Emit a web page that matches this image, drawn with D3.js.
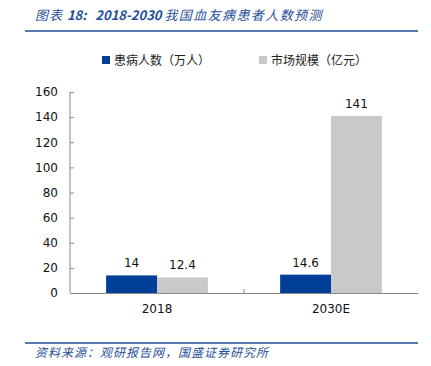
<!DOCTYPE html>
<html>
<head>
<meta charset="utf-8">
<script src="https://cdn.jsdelivr.net/npm/d3@7"></script>
<style>
  body { margin: 0; background: #fff; }
  svg { display: block; }
</style>
</head>
<body>
<div id="chart"></div>
<script>
const categories = ['2018', '2030E'];
const seriesNames = ['患病人数（万人）', '市场规模（亿元）'];
const patients = [14, 14.6];
const market = [12.4, 141];
const yTicks = [0, 20, 40, 60, 80, 100, 120, 140, 160];

const W = 431;
const H = 366;
const blue = '#003f98';
const grey = '#c9c9c9';
const titleBlue = '#1f4e9a';
const font = '"DejaVu Sans", Verdana, sans-serif';
const cjk = '"Noto Sans CJK SC", sans-serif';

const svg = d3.select('#chart')
  .append('svg')
  .attr('width', W)
  .attr('height', H);

// header
const title = svg.append('text')
  .attr('x', 35)
  .attr('y', 20)
  .attr('fill', titleBlue)
  .attr('font-family', cjk)
  .attr('font-size', 13)
  .attr('font-style', 'italic')
  .style('white-space', 'pre');
title.append('tspan').attr('letter-spacing', 1).text('图表 ');
title.append('tspan').attr('font-weight', 'bold').text('18:   2018-2030 ');
title.append('tspan').attr('letter-spacing', 1.4).text('我国血友病患者人数预测');

svg.append('line')
  .attr('x1', 25).attr('x2', 418)
  .attr('y1', 31).attr('y2', 31)
  .attr('stroke', titleBlue)
  .attr('stroke-width', 1.5);

// legend
const legend = svg.append('g');
const legendItems = [
  { name: seriesNames[0], color: blue, x: 102 },
  { name: seriesNames[1], color: grey, x: 259 },
];
legendItems.forEach((d) => {
  legend.append('rect')
    .attr('x', d.x).attr('y', 56)
    .attr('width', 8).attr('height', 8)
    .attr('fill', d.color);
  legend.append('text')
    .attr('x', d.x + 12).attr('y', 64.5)
    .attr('font-family', cjk)
    .attr('font-size', 12)
    .attr('fill', '#222')
    .text(d.name);
});

// plot
const margin = { left: 70, right: 418, top: 92, bottom: 293 };

const x = d3.scaleBand()
  .domain(categories)
  .range([margin.left, margin.right]);

const inner = d3.scaleBand()
  .domain([0, 1])
  .range([0, x.bandwidth()])
  .paddingInner(0)
  .paddingOuter(0.71);

const y = d3.scaleLinear()
  .domain([0, 160])
  .range([margin.bottom, margin.top]);

const yAxis = svg.append('g')
  .attr('transform', `translate(${margin.left},0)`)
  .call(d3.axisRight(y).tickValues(yTicks).tickSize(4).tickFormat(d3.format('d')));
yAxis.select('.domain').attr('stroke', '#888').attr('d', `M0,${margin.top}V${margin.bottom}`);
yAxis.selectAll('.tick line').attr('stroke', '#888');
yAxis.selectAll('.tick text')
  .attr('x', -12)
  .attr('text-anchor', 'end')
  .attr('font-family', font)
  .attr('font-size', 12)
  .attr('fill', '#111');

const groups = categories.map((c, i) => ({ cat: c, vals: [patients[i], market[i]] }));

const g = svg.append('g');
groups.forEach((grp) => {
  grp.vals.forEach((v, j) => {
    const bx = x(grp.cat) + inner(j);
    g.append('rect')
      .attr('x', bx)
      .attr('y', y(v))
      .attr('width', inner.bandwidth())
      .attr('height', y(0) - y(v))
      .attr('fill', j === 0 ? blue : grey);
    g.append('text')
      .attr('x', bx + inner.bandwidth() / 2)
      .attr('y', y(v) - 8)
      .attr('text-anchor', 'middle')
      .attr('font-family', font)
      .attr('font-size', 12)
      .attr('fill', '#111')
      .text(v);
  });
});

const xAxis = svg.append('g')
  .attr('transform', `translate(0,${margin.bottom})`)
  .call(d3.axisBottom(x).tickSize(0).tickPadding(11));
xAxis.select('.domain').attr('stroke', '#888');
xAxis.selectAll('.tick text')
  .attr('font-family', font)
  .attr('font-size', 12)
  .attr('fill', '#111');

// category separator tick
svg.append('line')
  .attr('x1', x(categories[1])).attr('x2', x(categories[1]))
  .attr('y1', margin.bottom).attr('y2', margin.bottom - 4)
  .attr('stroke', '#888');

// footer
svg.append('line')
  .attr('x1', 25).attr('x2', 418)
  .attr('y1', 343).attr('y2', 343)
  .attr('stroke', titleBlue)
  .attr('stroke-width', 1.5);

svg.append('text')
  .attr('x', 35)
  .attr('y', 357)
  .attr('fill', titleBlue)
  .attr('font-family', cjk)
  .attr('font-size', 12)
  .attr('letter-spacing', 1)
  .attr('font-style', 'italic')
  .text('资料来源：观研报告网，国盛证券研究所');
</script>
</body>
</html>
